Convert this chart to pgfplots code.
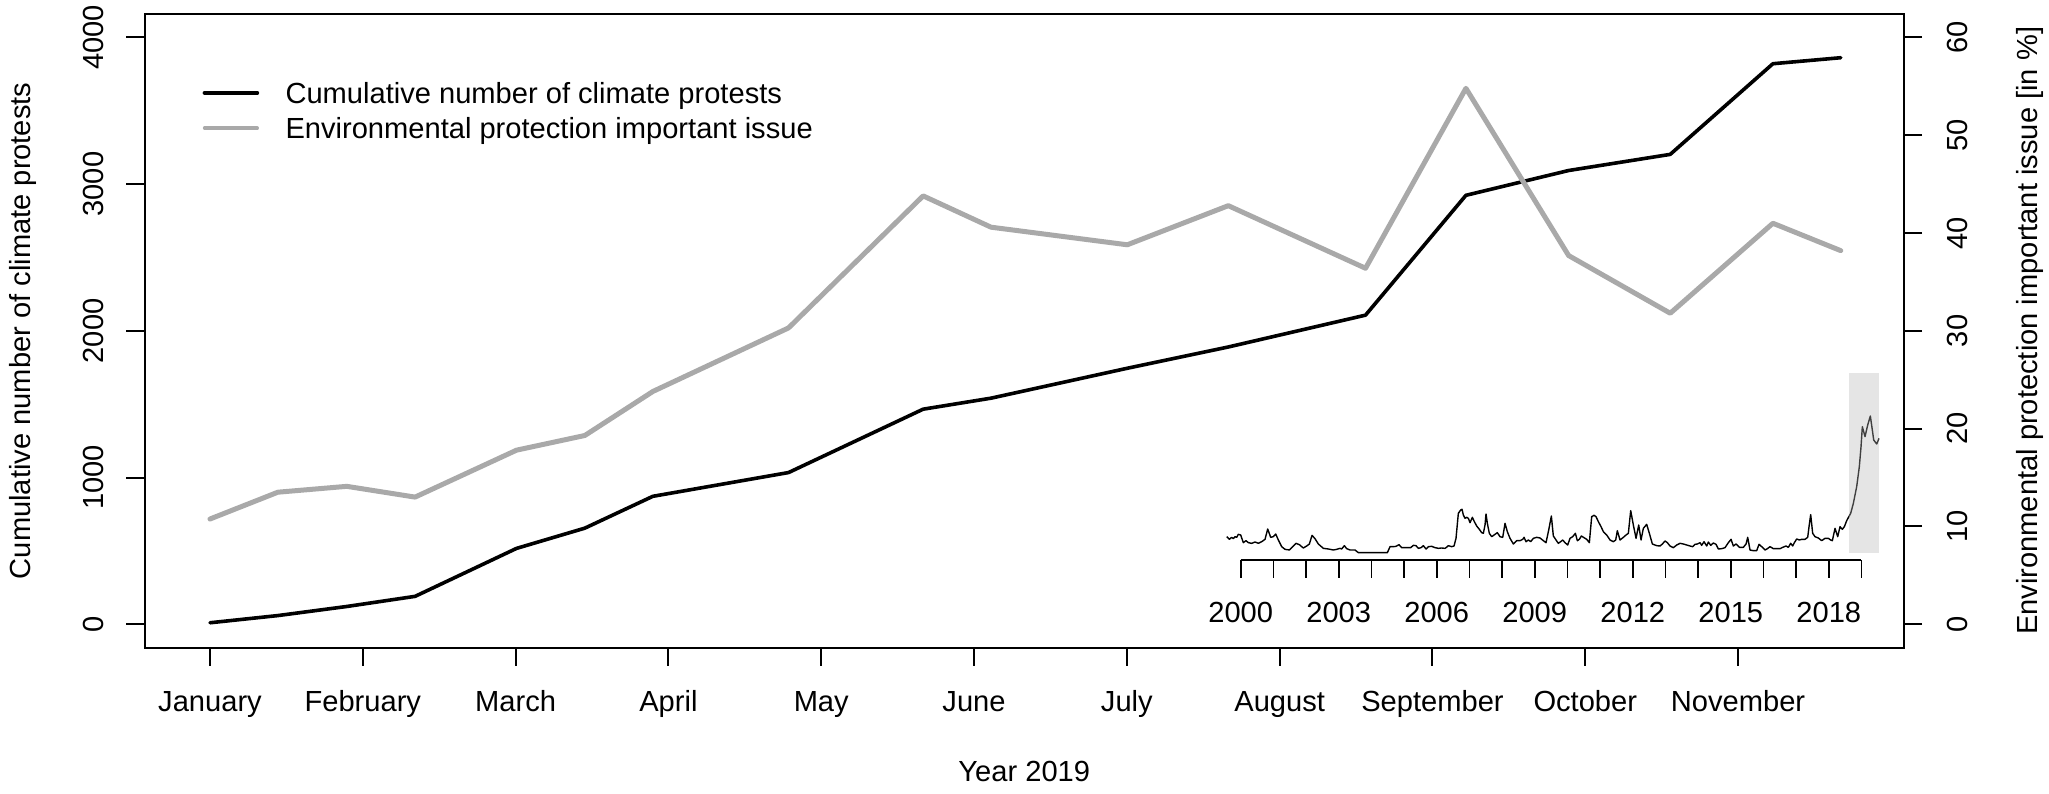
\documentclass[border=0pt]{standalone}
\usepackage{fontspec}
\setmainfont{Liberation Sans}
\usepackage{pgfplots}
\pgfplotsset{compat=1.18}
\definecolor{lgray}{HTML}{A9A9A9}
\definecolor{boxgray}{HTML}{E5E5E5}
\definecolor{dgray}{HTML}{404040}
\begin{document}
\fontsize{29.1}{35}\selectfont
\begin{tikzpicture}[x=1pt,y=1pt]
\path[use as bounding box] (0,0) rectangle (2049,793);
% main axis (left)
\begin{axis}[
  at={(144.5pt,145.3pt)}, anchor=south west,
  width=1759.5pt, height=633.7pt, scale only axis,
  xmin=-0.4287, xmax=11.086, ymin=-160, ymax=4160,
  axis line style={line width=2pt},
  xtick={0,1,2,3,4,5,6,7,8,9,10},
  xticklabels={January,February,March,April,May,June,July,August,September,October,November},
  ytick={0,1000,2000,3000,4000},
  xtick pos=bottom, ytick pos=left,
  tick align=outside, major tick length=18pt,
  tick style={black, line width=2pt},
  xticklabel style={inner sep=0pt, yshift=-45.5pt, anchor=base},
  yticklabel style={inner sep=0pt, xshift=-23pt, rotate=90, anchor=south},
  /pgf/number format/assume math mode=true, /pgf/number format/1000 sep={},
]
\addplot[black, line width=3.6pt, line join=round, line cap=round, mark=none] coordinates {
(0,10) (0.444,59) (0.895,121) (1.342,190) (2.006,517) (2.453,655) (2.898,872)
(3.786,1034) (4.667,1466) (5.111,1541) (6.003,1745) (6.664,1890) (7.562,2107)
(8.219,2924) (8.891,3093) (9.556,3203) (10.228,3821) (10.672,3862)};
\end{axis}
% right axis
\begin{axis}[
  at={(144.5pt,145.3pt)}, anchor=south west,
  width=1759.5pt, height=633.7pt, scale only axis,
  xmin=-0.4287, xmax=11.086, ymin=-2.4, ymax=62.4,
  axis x line=none, axis y line*=right,
  y axis line style={line width=2pt},
  ytick={0,10,20,30,40,50,60},
  tick align=outside, major tick length=18pt,
  tick style={black, line width=2pt},
  yticklabel style={inner sep=0pt, xshift=25.3pt, rotate=90, anchor=north},
  /pgf/number format/assume math mode=true,
  legend style={at={(0.03302,0.8922)}, anchor=north west, draw=none, fill=none,
    inner sep=0pt, outer sep=0pt, row sep=14.2pt, column sep=26.3pt,
    nodes={inner sep=0pt, text depth=0pt}},
  legend cell align=left,
  legend image code/.code={\draw[#1, line cap=round] (0pt,0pt) -- (52.8pt,0pt);},
]
\addlegendimage{black, line width=3.8pt}
\addlegendentry{Cumulative number of climate protests}
\addplot[lgray, line width=5pt, line join=round, line cap=round, mark=none, forget plot] coordinates {
(0,10.76) (0.444,13.5) (0.895,14.1) (1.342,13.0) (2.006,17.8) (2.453,19.3) (2.898,23.8)
(3.786,30.3) (4.667,43.8) (5.111,40.6) (6.003,38.8) (6.664,42.8) (7.562,36.4)
(8.219,54.8) (8.891,37.7) (9.556,31.8) (10.228,41.0) (10.672,38.2)};
\addlegendimage{lgray, line width=3.3pt}
\addlegendentry{Environmental protection important issue}
\end{axis}
% inset
\begin{axis}[
  at={(1224.37pt,233pt)}, anchor=south west,
  width=656.67pt, height=190pt, scale only axis,
  xmin=1999.5, xmax=2019.6, ymin=0, ymax=190,
  axis line style={draw=none}, clip=false,
  xtick={2000,2001,2002,2003,2004,2005,2006,2007,2008,2009,2010,2011,2012,2013,2014,2015,2016,2017,2018,2019},
  xticklabels={2000,,,2003,,,2006,,,2009,,,2012,,,2015,,,2018,},
  ytick=\empty, xtick pos=bottom,
  tick align=outside, major tick length=17.5pt,
  tick style={black, line width=1.6pt},
  xticklabel style={inner sep=0pt, yshift=-44.7pt, anchor=base},
]
\addplot[fill=boxgray, draw=none, forget plot] coordinates {
(2018.62,7.33) (2019.54,7.33) (2019.54,186.67) (2018.62,186.67)};
\addplot[black, line width=1.7pt, mark=none, forget plot] coordinates {(2000,0) (2019,0)};
\addplot[black, line width=1.4pt, line join=round, mark=none, forget plot] coordinates {
(1999.571,23.33) (1999.652,20.67) (1999.724,22.67) (1999.774,21.33) (1999.826,23.33) (1999.877,22.67) (1999.927,25.67) (1999.999,25) (2000.080,17.33) (2000.162,19.33) (2000.234,17.33) (2000.336,16.67) (2000.438,18) (2000.540,16.67) (2000.642,18.33) (2000.744,20.67) (2000.826,31) (2000.917,22.67) (2000.999,23.33) (2001.070,26) (2001.152,20) (2001.254,13.33) (2001.356,10.67) (2001.489,10) (2001.591,13.33) (2001.693,16.67) (2001.795,15.33) (2001.917,12) (2002.019,14) (2002.101,16) (2002.183,24.67) (2002.274,21.33) (2002.376,16) (2002.529,11.67) (2002.682,11) (2002.835,10) (2002.937,10.67) (2003.039,11.67) (2003.090,11) (2003.172,14.33) (2003.244,11.33) (2003.346,10) (2003.499,10) (2003.601,7.33) (2004.488,7.33) (2004.570,13.33) (2004.672,13.33) (2004.754,13.67) (2004.845,15.33) (2004.927,12.33) (2005.080,12.33) (2005.202,12.33) (2005.284,14.67) (2005.366,14.33) (2005.437,11.67) (2005.519,12.33) (2005.590,14.33) (2005.672,11) (2005.744,13.33) (2005.846,13.67) (2005.948,12.33) (2006.049,11.67) (2006.151,12) (2006.253,11.67)
(2006.284,12.33) (2006.355,14.33) (2006.458,13.33) (2006.529,14) (2006.590,21.67) (2006.661,46.67) (2006.733,50) (2006.774,50.67) (2006.814,45) (2006.866,41.67) (2006.917,42.67) (2006.968,41.67) (2007.019,37.33) (2007.090,42.67) (2007.151,38.33) (2007.223,34) (2007.304,30.67) (2007.376,27.33) (2007.427,26.67) (2007.478,35) (2007.508,46) (2007.549,36.67) (2007.610,26.67) (2007.682,23.33) (2007.784,25.67) (2007.855,27.33) (2007.937,23.33) (2008.019,22.67) (2008.090,36.67) (2008.161,28.33) (2008.243,21.67) (2008.345,16) (2008.447,19.33) (2008.549,19.33) (2008.631,20.67) (2008.672,22.67) (2008.733,18.33) (2008.804,20) (2008.876,18.33) (2008.957,21.67) (2009.059,22.67) (2009.161,22) (2009.263,19.33) (2009.345,17.33) (2009.427,30) (2009.508,44) (2009.569,24) (2009.651,20) (2009.722,16.67) (2009.794,18.33) (2009.855,20) (2009.927,17.33) (2010.008,15) (2010.080,21.67) (2010.161,23.33) (2010.243,26.67) (2010.304,19.33) (2010.365,20.67) (2010.427,24) (2010.508,22.33) (2010.590,20.67) (2010.671,17.33) (2010.743,43.33) (2010.814,44.67) (2010.875,43.33) (2010.947,38.33) (2011.029,33.33) (2011.100,28.33) (2011.202,25) (2011.304,20) (2011.406,18.33) (2011.478,20) (2011.528,29.33) (2011.610,20) (2011.712,22.67) (2011.794,25) (2011.865,26.67) (2011.937,49.33) (2012.018,35) (2012.100,21.67) (2012.182,35) (2012.253,20) (2012.324,31.67) (2012.426,35.67) (2012.508,26.67) (2012.600,16) (2012.733,14.33) (2012.835,14) (2012.906,16)
(2012.987,19) (2013.059,17.33) (2013.141,14) (2013.243,12.33) (2013.345,15) (2013.447,16.67) (2013.549,16) (2013.651,15) (2013.753,14) (2013.834,13.33) (2013.906,15.67) (2013.977,16) (2014.059,17.33) (2014.110,14.67) (2014.181,18.33) (2014.263,14) (2014.314,18) (2014.385,14.67) (2014.467,17) (2014.549,15.67) (2014.620,11) (2014.722,11.33) (2014.824,12.33) (2014.926,17.33) (2015.008,20.67) (2015.079,14) (2015.161,16) (2015.263,12.67) (2015.385,12.67) (2015.467,16) (2015.518,22.67) (2015.589,10) (2015.691,9.33) (2015.793,9.33) (2015.865,15.67) (2015.946,13.33) (2016.048,10) (2016.120,11.33) (2016.201,13.33) (2016.303,11.33) (2016.405,11.33) (2016.507,11.33) (2016.589,12.67) (2016.691,14) (2016.762,12.67) (2016.834,16.67) (2016.895,14) (2016.946,17.33) (2017.018,21) (2017.099,20) (2017.171,20.67) (2017.273,20.67) (2017.355,22.67) (2017.395,33.33) (2017.446,45.33) (2017.507,26.67) (2017.579,23.33) (2017.681,22) (2017.783,19.33) (2017.885,21.67) (2017.987,21.67) (2018.058,20) (2018.109,19.33) (2018.191,31.67) (2018.273,23.33) (2018.344,33.33) (2018.415,30.67) (2018.477,33.33) (2018.548,39.33) (2018.620,43.7)};
\addplot[dgray, line width=1.4pt, line join=round, mark=none, forget plot] coordinates {
(2018.620,43.7) (2018.670,46.67) (2018.752,56.67) (2018.854,73.33) (2018.935,93.33) (2018.987,113.33) (2019.027,133.33) (2019.109,123.33) (2019.191,135) (2019.272,144) (2019.333,130) (2019.375,120) (2019.467,116) (2019.538,121.67)};
\end{axis}
% axis titles
\node[rotate=90, anchor=base, inner sep=0pt] at (30.6,462.15) {Cumulative number of climate protests};
\node[rotate=90, anchor=base, inner sep=0pt] at (2037.3,462.15) {Environmental protection important issue [in \%]};
\node[anchor=base, inner sep=0pt] at (1024.25,11.2) {Year 2019};
\end{tikzpicture}
\end{document}
